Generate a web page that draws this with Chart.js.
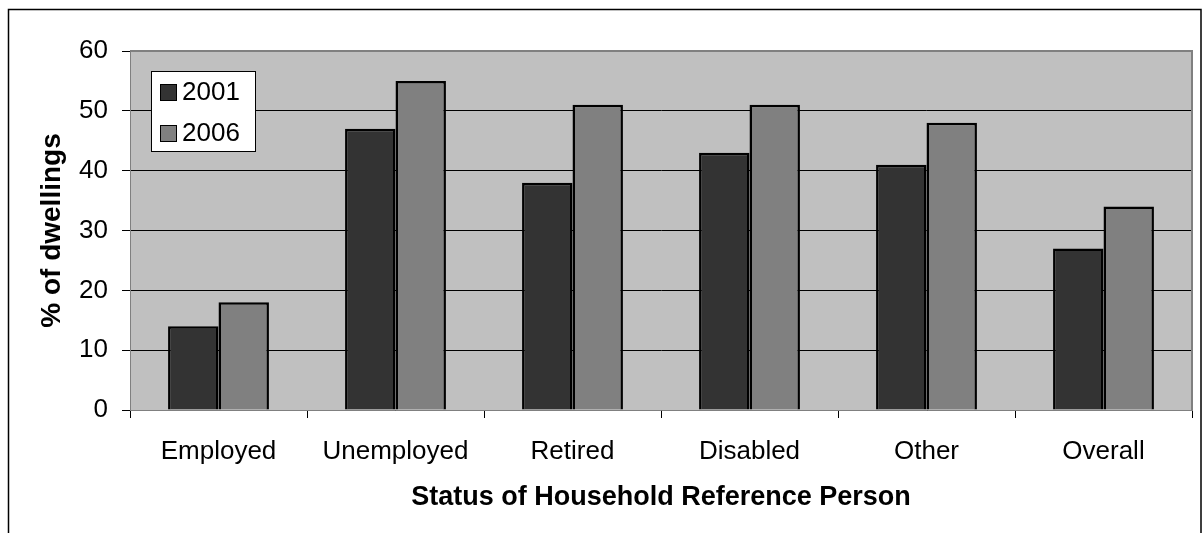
<!DOCTYPE html>
<html>
<head>
<meta charset="utf-8">
<script src="https://cdn.jsdelivr.net/npm/chart.js@4"></script>
<style>
  html, body { margin: 0; padding: 0; background: #fff; }
  #wrap { width: 1204px; height: 533px; }
</style>
</head>
<body>
<div id="wrap"><canvas id="chart1" width="1204" height="533"></canvas></div>
<script>
const categories = ['Employed', 'Unemployed', 'Retired', 'Disabled', 'Other', 'Overall'];
const series2001 = [14, 47, 38, 43, 41, 27];
const series2006 = [18, 55, 51, 51, 48, 34];
const seriesNames = ['2001', '2006'];
const yTicks = [0, 10, 20, 30, 40, 50, 60];

const FONT = "'Liberation Sans', Arial, sans-serif";

// grey plot area, outer frame and the boxed legend inside the plot
const framePlugin = {
  id: 'frame',
  beforeDraw(chart) {
    const ctx = chart.ctx;
    const a = chart.chartArea;
    ctx.save();
    ctx.fillStyle = '#fff';
    ctx.fillRect(0, 0, chart.width, chart.height);
    ctx.fillStyle = '#C0C0C0';
    ctx.fillRect(a.left, a.top, a.right - a.left, a.bottom - a.top);
    ctx.strokeStyle = '#000';
    ctx.lineWidth = 1.5;
    ctx.beginPath();
    ctx.moveTo(8.5, 540);
    ctx.lineTo(8.5, 9.5);
    ctx.lineTo(1201, 9.5);
    ctx.lineTo(1201, 540);
    ctx.stroke();
    ctx.restore();
  },
  afterDatasetsDraw(chart) {
    const ctx = chart.ctx;
    const a = chart.chartArea;
    ctx.save();
    // plot border top / right
    ctx.strokeStyle = '#808080';
    ctx.lineWidth = 2;
    ctx.beginPath();
    ctx.moveTo(a.left, a.top);
    ctx.lineTo(a.right, a.top);
    ctx.lineTo(a.right, a.bottom);
    ctx.stroke();
    // legend
    const x = 151, y = 71, w = 104, h = 80;
    ctx.fillStyle = '#fff';
    ctx.fillRect(x, y, w, h);
    ctx.strokeStyle = '#000';
    ctx.lineWidth = 1;
    ctx.strokeRect(x + 0.5, y + 0.5, w, h);
    ctx.font = '26px ' + FONT;
    ctx.textBaseline = 'middle';
    chart.data.datasets.forEach((ds, i) => {
      const cy = y + 21 + i * 41;
      ctx.fillStyle = ds.backgroundColor;
      ctx.fillRect(x + 9, cy - 8, 17, 17);
      ctx.strokeStyle = '#000';
      ctx.strokeRect(x + 9.5, cy - 7.5, 16, 16);
      ctx.fillStyle = '#000';
      ctx.fillText(ds.label, x + 31, cy + 1);
    });
    ctx.restore();
  }
};

new Chart(document.getElementById('chart1'), {
  type: 'bar',
  data: {
    labels: categories,
    datasets: [
      { label: seriesNames[0], data: series2001, backgroundColor: '#333333', borderColor: '#000', borderWidth: 2.5 },
      { label: seriesNames[1], data: series2006, backgroundColor: '#808080', borderColor: '#000', borderWidth: 2.5 }
    ]
  },
  options: {
    responsive: false,
    animation: false,
    layout: { padding: { left: 0, right: 12, top: 51, bottom: 0 } },
    datasets: { bar: { categoryPercentage: 0.57, barPercentage: 1.0 } },
    plugins: {
      legend: { display: false },
      tooltip: { enabled: false }
    },
    scales: {
      x: {
        afterFit(scale) { scale.height = 123; },
        grid: { display: true, drawOnChartArea: false, offset: true, color: '#000', tickLength: 8 },
        border: { color: '#808080', width: 1 },
        ticks: { color: '#000', font: { family: FONT, size: 26 }, padding: 18, maxRotation: 0 },
        title: {
          display: true,
          text: 'Status of Household Reference Person',
          color: '#000',
          font: { family: FONT, size: 27, weight: 'bold' },
          padding: { top: 0, bottom: 19 }
        }
      },
      y: {
        min: 0,
        max: 60,
        afterFit(scale) { scale.width = 130; },
        afterBuildTicks(scale) { scale.ticks = yTicks.map(v => ({ value: v })); },
        grid: { color: '#000', lineWidth: 1, tickLength: 8 },
        border: { color: '#808080', width: 1 },
        ticks: { color: '#000', font: { family: FONT, size: 26 }, padding: 14 },
        title: {
          display: true,
          text: '% of dwellings',
          color: '#000',
          font: { family: FONT, size: 28, weight: 'bold' },
          padding: { top: 35, bottom: 0 }
        }
      }
    }
  },
  plugins: [framePlugin]
});
</script>
</body>
</html>
